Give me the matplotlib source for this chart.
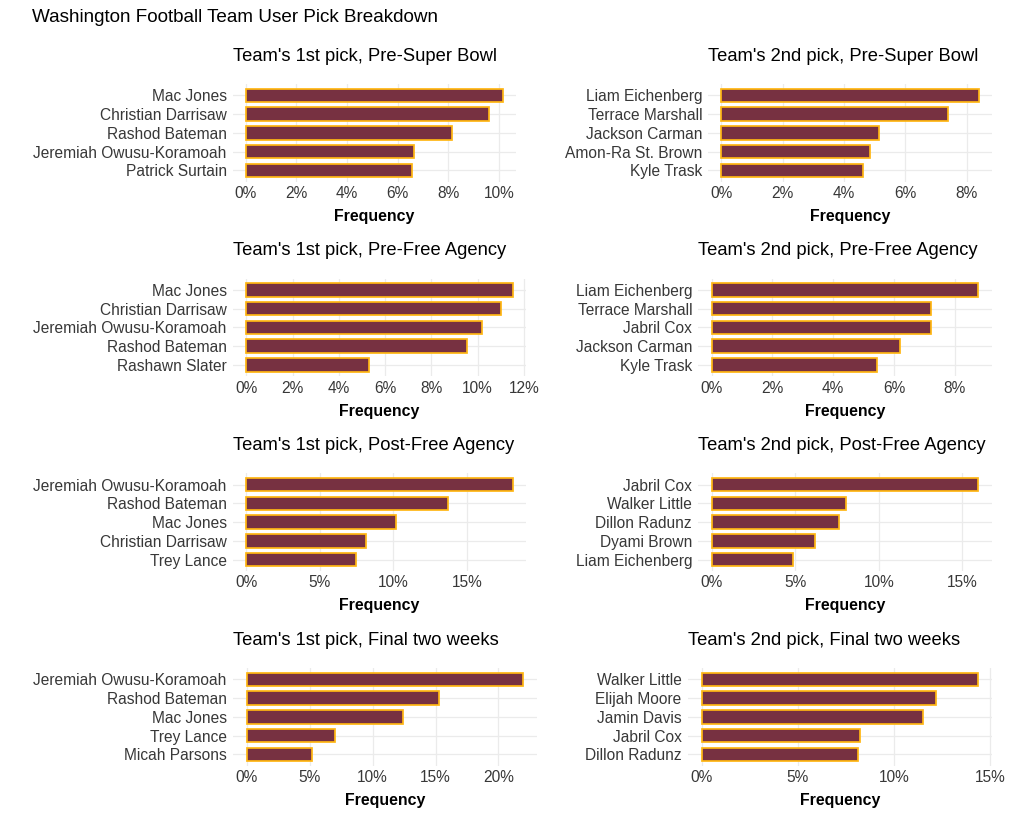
import matplotlib
matplotlib.use("Agg")
import matplotlib.pyplot as plt
from matplotlib.ticker import MultipleLocator, FuncFormatter

plt.rcParams['font.family'] = ['Liberation Sans', 'DejaVu Sans']

main_title = "Washington Football Team User Pick Breakdown"

titles = [
    "Team's 1st pick, Pre-Super Bowl", "Team's 2nd pick, Pre-Super Bowl",
    "Team's 1st pick, Pre-Free Agency", "Team's 2nd pick, Pre-Free Agency",
    "Team's 1st pick, Post-Free Agency", "Team's 2nd pick, Post-Free Agency",
    "Team's 1st pick, Final two weeks", "Team's 2nd pick, Final two weeks",
]

players_1 = ["Mac Jones", "Christian Darrisaw", "Rashod Bateman", "Jeremiah Owusu-Koramoah", "Patrick Surtain"]
values_1 = [10.16, 9.6, 8.15, 6.66, 6.57]
players_2 = ["Liam Eichenberg", "Terrace Marshall", "Jackson Carman", "Amon-Ra St. Brown", "Kyle Trask"]
values_2 = [8.39, 7.37, 5.15, 4.84, 4.63]
players_3 = ["Mac Jones", "Christian Darrisaw", "Jeremiah Owusu-Koramoah", "Rashod Bateman", "Rashawn Slater"]
values_3 = [11.51, 11.0, 10.2, 9.52, 5.31]
players_4 = ["Liam Eichenberg", "Terrace Marshall", "Jabril Cox", "Jackson Carman", "Kyle Trask"]
values_4 = [8.78, 7.23, 7.21, 6.19, 5.44]
players_5 = ["Jeremiah Owusu-Koramoah", "Rashod Bateman", "Mac Jones", "Christian Darrisaw", "Trey Lance"]
values_5 = [18.1, 13.73, 10.14, 8.15, 7.45]
players_6 = ["Jabril Cox", "Walker Little", "Dillon Radunz", "Dyami Brown", "Liam Eichenberg"]
values_6 = [15.96, 8.04, 7.64, 6.16, 4.87]
players_7 = ["Jeremiah Owusu-Koramoah", "Rashod Bateman", "Mac Jones", "Trey Lance", "Micah Parsons"]
values_7 = [21.93, 15.29, 12.38, 7.01, 5.21]
players_8 = ["Walker Little", "Elijah Moore", "Jamin Davis", "Jabril Cox", "Dillon Radunz"]
values_8 = [14.36, 12.16, 11.52, 8.25, 8.11]

tick_steps = [2, 2, 2, 2, 5, 5, 5, 5]

all_players = [players_1, players_2, players_3, players_4, players_5, players_6, players_7, players_8]
all_values = [values_1, values_2, values_3, values_4, values_5, values_6, values_7, values_8]

W, H = 1024, 819
fig = plt.figure(figsize=(W / 100, H / 100), dpi=100)
fig.patch.set_facecolor('white')

FILL = '#773141'
EDGE = '#FFB612'
GRID = '#EBEBEB'
TXT = '#383838'

row_top0 = 84.0
row_pitch = 194.7
panel_h = 97.5
left_col_right = [515.7, 526.0, 526.0, 536.5]
right_col_left = [708.4, 698.4, 698.3, 687.9]
left_col_left = 233.0
right_col_right = 991.7

fig.text(32.5 / W, 1 - 22.3 / H, main_title, fontsize=13.6, color='black',
         ha='left', va='baseline')

for i in range(8):
    r, c = divmod(i, 2)
    top = row_top0 + r * row_pitch
    if c == 0:
        x0, x1 = left_col_left, left_col_right[r]
    else:
        x0, x1 = right_col_left[r], right_col_right
    ax = fig.add_axes([x0 / W, 1 - (top + panel_h) / H, (x1 - x0) / W, panel_h / H])
    names = all_players[i]
    vals = all_values[i]
    ypos = list(range(len(names)))
    ax.barh(ypos, vals, height=0.72, color=FILL, edgecolor=EDGE, linewidth=1.25, zorder=3)
    vmax = max(vals)
    ax.set_xlim(-0.05 * vmax, 1.05 * vmax)
    ax.set_ylim(len(names) - 0.4, -0.6)
    ax.set_yticks(ypos)
    ax.set_yticklabels(names)
    ax.xaxis.set_major_locator(MultipleLocator(tick_steps[i]))
    ax.xaxis.set_major_formatter(FuncFormatter(lambda v, p: f"{v:.0f}%"))
    ax.tick_params(axis='both', length=0, labelsize=11.2, labelcolor=TXT)
    ax.tick_params(axis='x', pad=3.2)
    ax.tick_params(axis='y', pad=4.5)
    for s in ax.spines.values():
        s.set_visible(False)
    ax.grid(True, axis='both', color=GRID, linewidth=0.9, zorder=0)
    ax.set_axisbelow(True)
    ax.set_facecolor('white')
    fig.text(x0 / W, 1 - (top - 23.3) / H, titles[i], fontsize=13.2, color='black',
             ha='left', va='baseline')
    fig.text((x0 + x1) / 2 / W, 1 - (top + panel_h + 39.5) / H, "Frequency",
             fontsize=11.4, fontweight='bold', color='black', ha='center', va='baseline')

fig.savefig('out.png', dpi=100, facecolor='white')
